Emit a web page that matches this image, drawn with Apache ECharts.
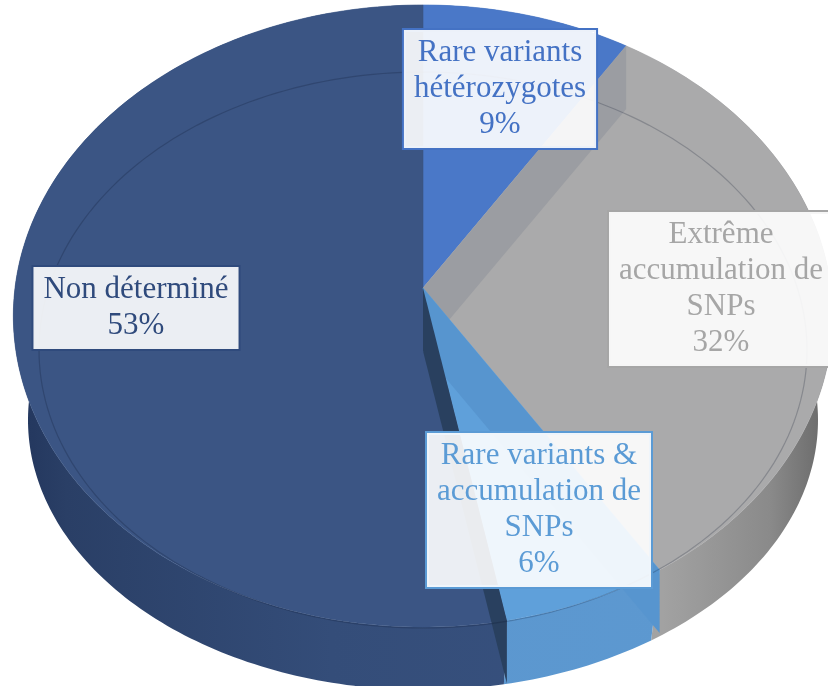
<!DOCTYPE html>
<html>
<head>
<meta charset="utf-8">
<script src="https://cdn.jsdelivr.net/npm/echarts@6/dist/echarts.min.js"></script>
<style>
  html, body { margin: 0; padding: 0; background: #ffffff; }
  #chart { width: 828px; height: 686px; }
</style>
</head>
<body>
<div id="chart"></div>
<script>
// Slice names and shares (percent), clockwise from 12 o'clock
const categories = [
  'Rare variants\nhétérozygotes',
  'Extrême\naccumulation de\nSNPs',
  'Rare variants &\naccumulation de\nSNPs',
  'Non déterminé'
];
const shares = [9, 32, 6, 53];

// Per-slice styling
const topColors   = ['#4a78c8', '#aaaaab', '#5fa0da', '#3b5584'];
const faceColors  = ['#4a78c8', '#9b9da2', '#5795cf', '#29405f'];
const labelColors = ['#4472c4', '#a6a6a6', '#5b9bd5', '#2f4a7c'];
const sideStops = [
  [[0, '#3d64a8'], [1, '#3d64a8']],
  [[0, '#b4b4b4'], [0.8, '#a2a2a2'], [0.93, '#8a8a8a'], [1, '#686868']],
  [[0, '#5a95cd'], [1, '#5d99d1']],
  [[0, '#20335a'], [0.08, '#2a3f66'], [0.4, '#344d79'], [1, '#3a5482']]
];
const topZ  = [2, 2, 4, 2];
const faceZ = [3, 3, 5, 6];
// Label box centres (layout)
const labelCenters = [[500, 89], [721, 289], [539, 510], [136, 308]];

// Perspective view of the disc: top rim, bottom rim, and the drop of the cut faces
const VIEW = { cx: 423, cy: 288, ax: 408, by: 308.5, persp: 0.09 };
const BASE = { cx: 423, cy: 395.7, ax: 393.4, by: 267.8, persp: 0.09 };
const FACE_DROP = 63;
// Bevel ring drawn on the top face
const RING = { cx: 423, cy: 350, rx: 384, ry: 278 };

function project(view, u, v) {
  const w = 1 + view.persp * v;
  return [view.cx + view.ax * u / w, view.cy - view.by * v / w];
}
function rim(view, theta) {
  return project(view, Math.sin(theta), Math.cos(theta));
}
function drop(p, d) { return [p[0], p[1] + d]; }

const total = shares.reduce((a, b) => a + b, 0);
const starts = [];
shares.reduce((acc, v) => { starts.push(acc / total * Math.PI * 2); return acc + v; }, 0);

function sideFill(i) {
  return {
    type: 'linear', x: 0, y: 0, x2: 828, y2: 0, global: true,
    colorStops: sideStops[i].map(s => ({ offset: s[0], color: s[1] }))
  };
}

function ringPoints() {
  const pts = [];
  for (let k = 0; k <= 240; k++) {
    const t = k / 240 * Math.PI * 2;
    pts.push([RING.cx + RING.rx * Math.sin(t), RING.cy - RING.ry * Math.cos(t)]);
  }
  return pts;
}

function renderSlice(params, api) {
  const i = params.dataIndex;
  const value = api.value(0);
  const a0 = starts[i];
  const a1 = a0 + value / total * Math.PI * 2;
  const n = Math.max(6, Math.ceil((a1 - a0) / (Math.PI / 180)));
  const arcTop = [], arcLow = [];
  for (let k = 0; k <= n; k++) {
    const t = a0 + (a1 - a0) * k / n;
    arcTop.push(rim(VIEW, t));
    arcLow.push(rim(BASE, t));
  }
  const apex = project(VIEW, 0, 0);
  const edge = rim(VIEW, a0);
  const c = labelCenters[i];
  const children = [
    // outer wall
    { type: 'polygon', z2: 1, shape: { points: arcTop.concat(arcLow.slice().reverse()) },
      style: { fill: sideFill(i) } },
    // top face
    { type: 'polygon', z2: topZ[i], shape: { points: [apex].concat(arcTop) },
      style: { fill: topColors[i], stroke: topColors[i], lineWidth: 0.6 } },
    // cut face at the slice's leading edge
    { type: 'polygon', z2: faceZ[i],
      shape: { points: [apex, edge, drop(edge, FACE_DROP), drop(apex, FACE_DROP)] },
      style: { fill: faceColors[i] } },
    // data label
    { type: 'text', z2: 40,
      style: {
        text: api.value(1) + '\n' + value + '%',
        x: c[0], y: c[1], align: 'center', verticalAlign: 'middle',
        fontFamily: '"Liberation Serif", "Times New Roman", serif',
        fontSize: 31, lineHeight: 36, fill: labelColors[i],
        backgroundColor: 'rgba(255,255,255,0.9)',
        borderColor: labelColors[i], borderWidth: 2,
        padding: [5, 10, 5, 10]
      } }
  ];
  if (i === 0) {
    children.push({ type: 'polyline', z2: 20, shape: { points: ringPoints() },
      style: { fill: null, stroke: 'rgba(10,20,40,0.22)', lineWidth: 1.2 } });
  }
  return { type: 'group', children: children };
}

const chart = echarts.init(document.getElementById('chart'), null, { renderer: 'canvas' });
chart.setOption({
  animation: false,
  backgroundColor: '#ffffff',
  series: [{
    type: 'custom',
    coordinateSystem: 'none',
    renderItem: renderSlice,
    data: shares.map((v, i) => [v, categories[i]])
  }]
});
</script>
</body>
</html>
